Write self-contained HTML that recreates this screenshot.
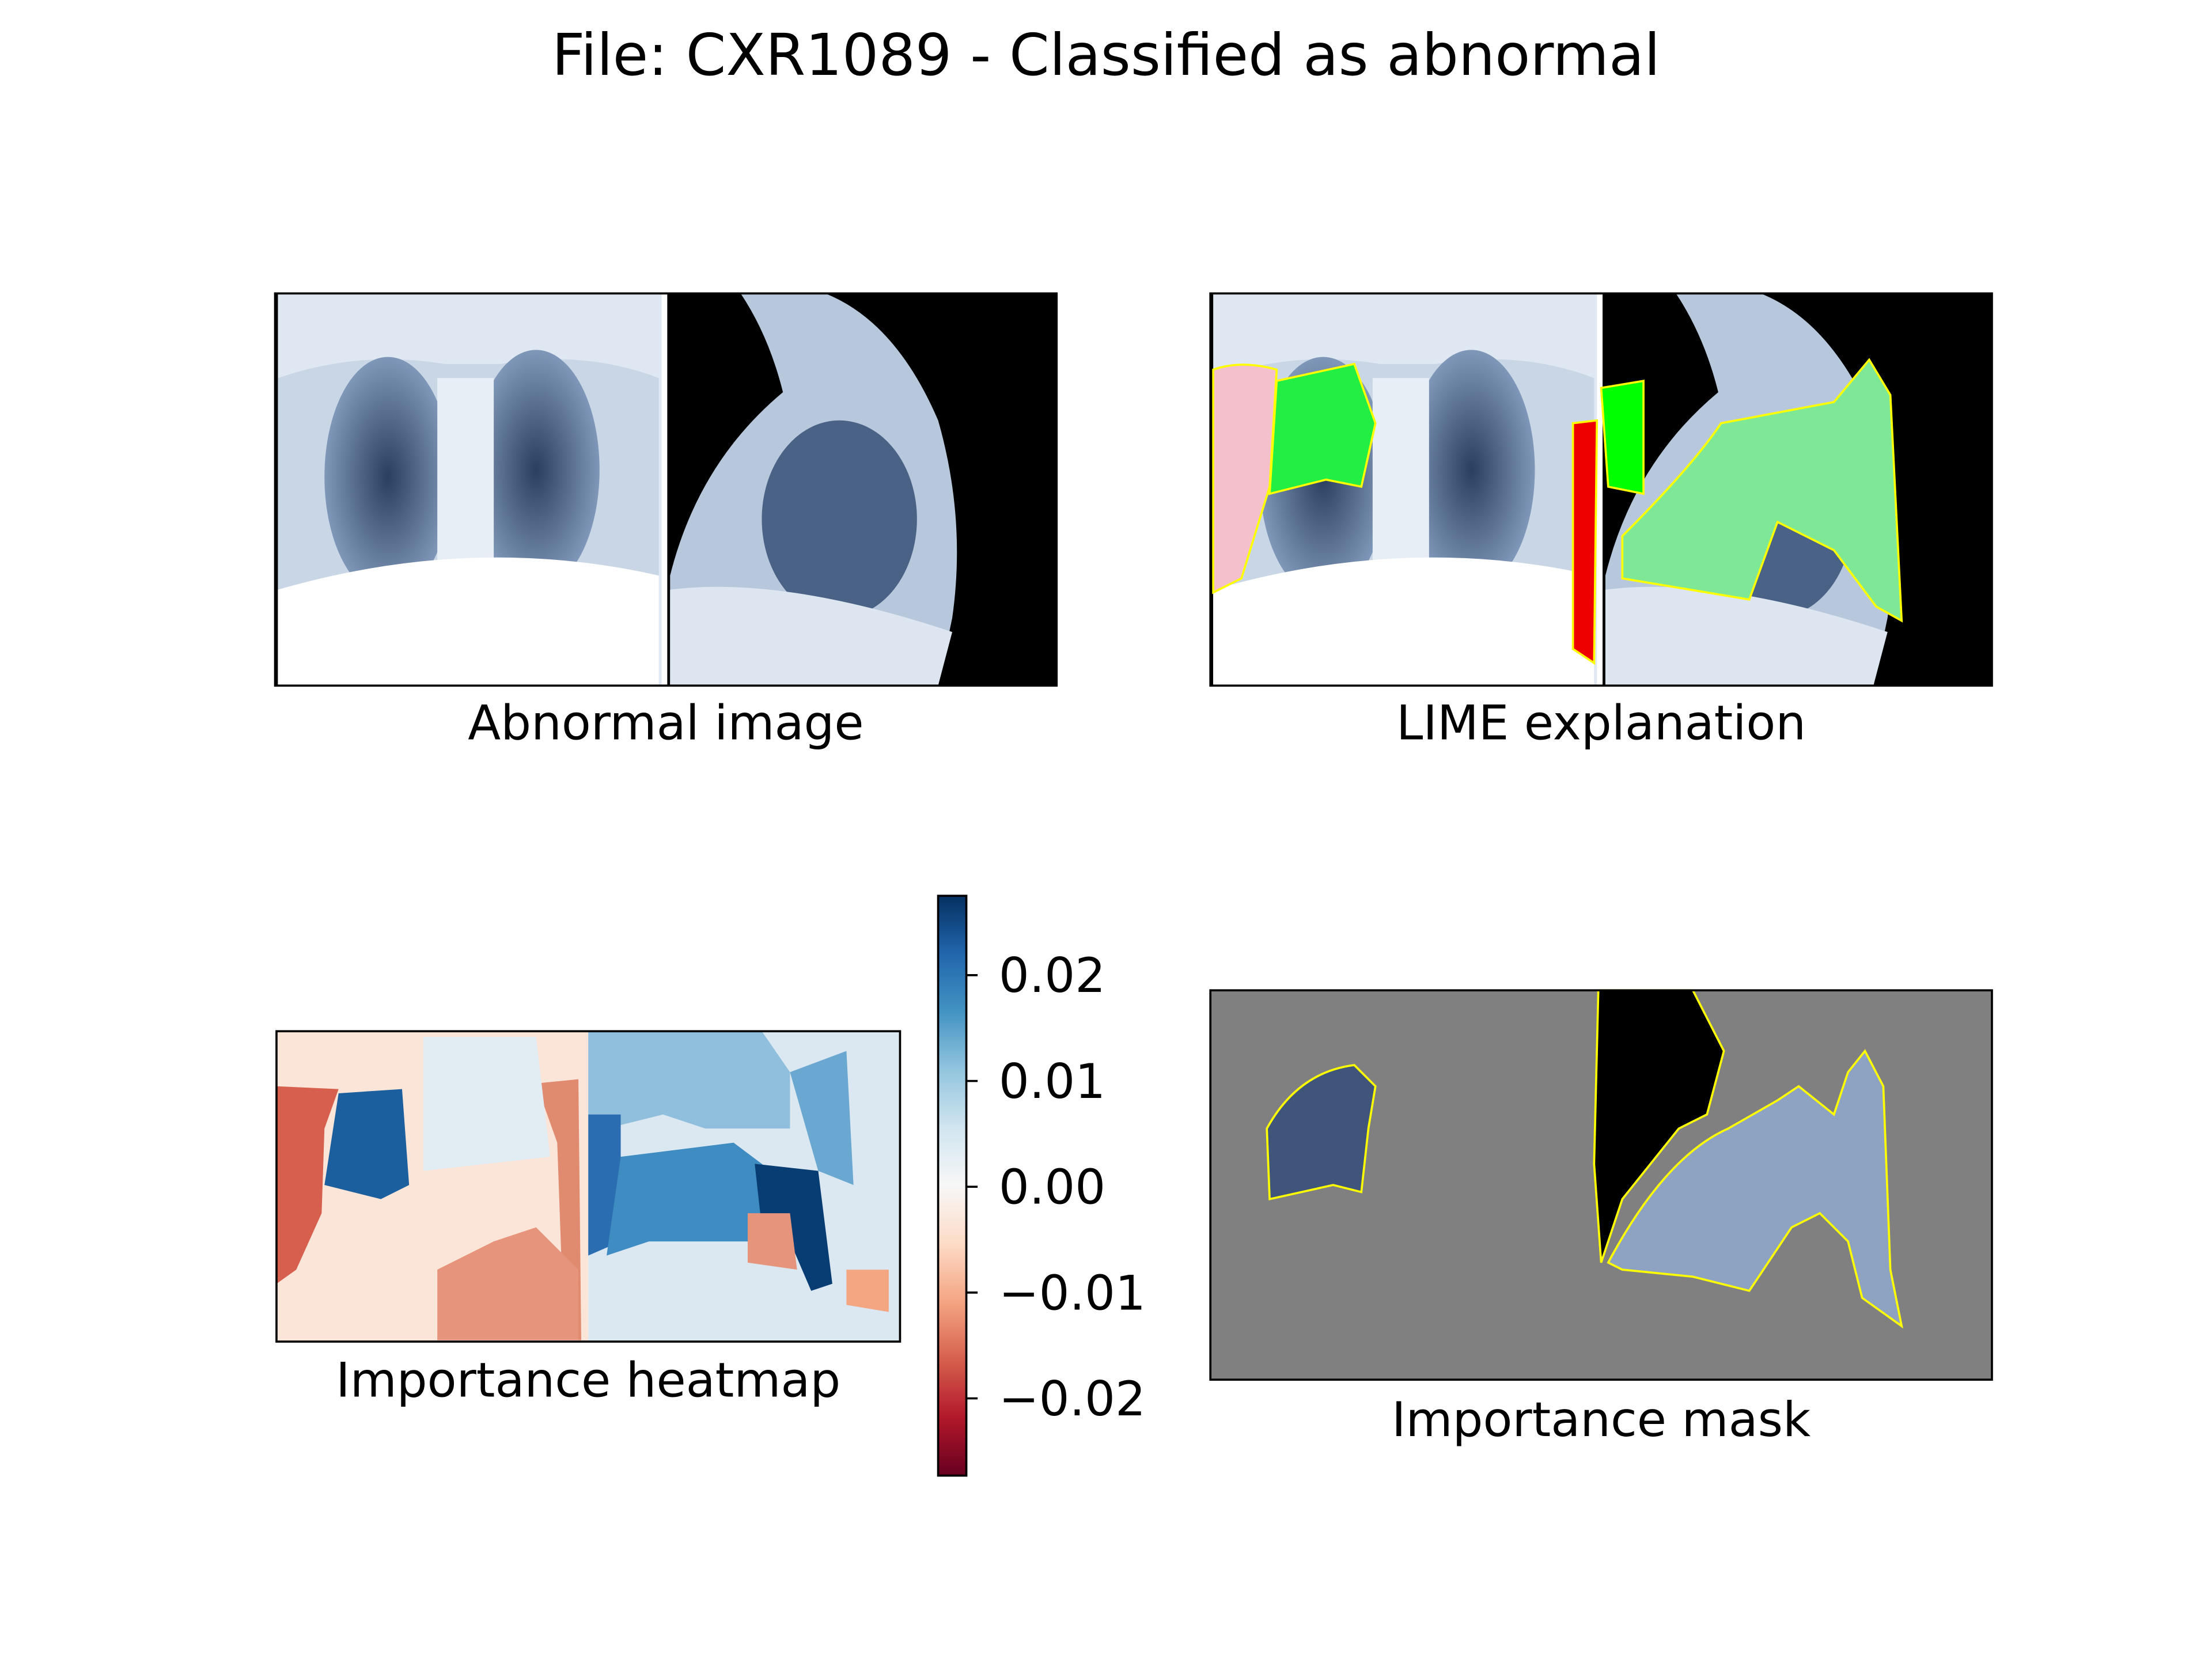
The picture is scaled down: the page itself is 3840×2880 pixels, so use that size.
<!DOCTYPE html>
<html><head><meta charset="utf-8"><style>
html,body{margin:0;padding:0;background:#fff}
svg{display:block}
text{font-family:"DejaVu Sans","Liberation Sans",sans-serif;fill:#000}
</style></head><body>
<svg id="fig" width="3840" height="2880" viewBox="0 0 1568 1176" xmlns="http://www.w3.org/2000/svg">
<defs>
<linearGradient id="cb" x1="0" y1="1" x2="0" y2="0">
<stop offset="0" stop-color="#67001f"/><stop offset="0.1" stop-color="#b2182b"/><stop offset="0.2" stop-color="#d6604d"/><stop offset="0.3" stop-color="#f4a582"/><stop offset="0.4" stop-color="#fddbc7"/><stop offset="0.5" stop-color="#f7f7f7"/><stop offset="0.6" stop-color="#d1e5f0"/><stop offset="0.7" stop-color="#92c5de"/><stop offset="0.8" stop-color="#4393c3"/><stop offset="0.9" stop-color="#2166ac"/><stop offset="1" stop-color="#053061"/>
</linearGradient>
<radialGradient id="lung" cx="0.5" cy="0.5" r="0.5"><stop offset="0" stop-color="#2a3f60"/><stop offset="1" stop-color="#7f97b8"/></radialGradient>
<g id="xray">
<rect x="0" y="0" width="554" height="278" fill="#000"/>
<rect x="2" y="0" width="274" height="278" fill="#dfe8f2"/>
<path d="M2 60 Q60 40 120 50 L160 50 Q220 40 272 60 L272 278 L2 278Z" fill="#c9d6e6"/>
<ellipse cx="80" cy="130" rx="45" ry="85" fill="url(#lung)"/>
<ellipse cx="185" cy="125" rx="45" ry="85" fill="url(#lung)"/>
<rect x="115" y="60" width="40" height="160" fill="#e8eef6"/>
<path d="M2 210 Q140 170 272 200 L272 278 L2 278Z" fill="#fff"/>
<rect x="274" y="0" width="4" height="278" fill="#fff"/>
<path d="M330 0 L390 0 Q440 20 470 90 Q490 160 480 230 L470 278 L280 278 L280 200 Q300 120 360 70 Q350 30 330 0Z" fill="#b8c8dc"/>
<ellipse cx="400" cy="160" rx="55" ry="70" fill="#4a6286"/>
<path d="M280 210 Q360 200 480 240 L470 278 L280 278Z" fill="#dde6f0"/>
</g>
</defs>
<text x="784" y="53" text-anchor="middle" font-size="40.8">File: CXR1089 - Classified as abnormal</text>

<g>
<use href="#xray" x="195" y="208"/>
<rect x="195" y="208" width="554" height="278" fill="none" stroke="#000" stroke-width="1.5"/>
<text x="472" y="524" text-anchor="middle" font-size="34">Abnormal image</text>
</g>

<g>
<use href="#xray" x="858" y="208"/>
<path d="M860 262 Q880 255 905 262 L900 345 L880 410 L860 420Z" fill="#f4c0cc" stroke="#ff0" stroke-width="1.5"/>
<path d="M905 270 L960 258 L975 300 L965 345 L940 340 L900 350Z" fill="#22ee44" stroke="#ff0" stroke-width="1.5"/>
<path d="M1115 300 L1132 298 L1130 470 L1115 460Z" fill="#ee0000" stroke="#ff0" stroke-width="1.5"/>
<path d="M1135 275 L1165 270 L1165 350 L1140 345Z" fill="#00ff00" stroke="#ff0" stroke-width="1.5"/>
<path d="M1150 380 Q1200 330 1220 300 L1300 285 L1325 255 L1340 280 L1348 440 L1330 430 L1300 390 L1260 370 L1240 425 L1150 410Z" fill="#7fe896" stroke="#ff0" stroke-width="1.5"/>
<rect x="858" y="208" width="554" height="278" fill="none" stroke="#000" stroke-width="1.5"/>
<text x="1135" y="524" text-anchor="middle" font-size="34">LIME explanation</text>
</g>

<g>
<rect x="196" y="731" width="221" height="220" fill="#fbe4d8"/>
<rect x="417" y="731" width="221" height="220" fill="#dbe8f1"/>
<path d="M196 770 L240 772 L230 800 L228 860 L210 900 L196 910Z" fill="#d6604d"/>
<path d="M380 768 L410 765 L412 950 L400 950 L395 810Z" fill="#e08a70"/>
<path d="M240 775 L285 772 L290 840 L270 850 L230 840Z" fill="#1c5f9f"/>
<path d="M300 735 L380 735 L390 820 L300 830Z" fill="#e2ecf3"/>
<path d="M310 900 L350 880 L380 870 L410 900 L410 950 L310 950Z" fill="#e6957c"/>
<path d="M417 731 L540 731 L560 760 L560 800 L500 800 L470 790 L430 800 L417 790Z" fill="#8fbfdc"/>
<path d="M417 790 L440 790 L440 880 L417 890Z" fill="#2a6db0"/>
<path d="M440 820 L520 810 L560 840 L540 880 L460 880 L430 890Z" fill="#3f8cc2"/>
<path d="M535 825 L580 830 L590 910 L575 915 L560 880 L540 870Z" fill="#083d74"/>
<path d="M560 760 L600 745 L605 840 L580 830Z" fill="#6aa8d1"/>
<path d="M530 860 L560 860 L565 900 L530 895Z" fill="#e6957c"/>
<path d="M600 900 L630 900 L630 930 L600 925Z" fill="#f4a582"/>
<rect x="196" y="731" width="442" height="220" fill="none" stroke="#000" stroke-width="1.5"/>
<text x="417" y="990" text-anchor="middle" font-size="34">Importance heatmap</text>
</g>

<g id="colorbar">
<rect x="665" y="635" width="20" height="411" fill="url(#cb)" stroke="#000" stroke-width="1.5"/>
</g>

<g>
<rect x="858" y="702" width="554" height="276" fill="#808080"/>
<path d="M898 800 Q920 760 960 755 L975 770 L970 800 L965 845 L945 840 L900 850Z" fill="#3f567a" stroke="#ff0" stroke-width="1.5"/>
<path d="M1133 702 L1200 702 L1222 745 L1210 790 L1190 800 L1150 850 L1135 895 L1130 825Z" fill="#000" stroke="#ff0" stroke-width="1.5"/>
<path d="M1140 895 Q1180 820 1225 800 L1260 780 L1275 770 L1300 790 L1310 760 L1322 745 L1335 770 L1340 900 L1348 940 L1320 920 L1310 880 L1290 860 L1270 870 L1240 915 L1200 905 L1150 900Z" fill="#8ea2c2" stroke="#ff0" stroke-width="1.5"/>
<rect x="858" y="702" width="554" height="276" fill="none" stroke="#000" stroke-width="1.5"/>
<text x="1135" y="1018" text-anchor="middle" font-size="34">Importance mask</text>
</g>
</svg>
<script>
const tickValues = [0.02, 0.01, 0.00, -0.01, -0.02];
const tickLabels = ["0.02", "0.01", "0.00", "\u22120.01", "\u22120.02"];
const cbMin = -0.0273, cbMax = 0.0275;
function yScale(v){ return 1046 - (v - cbMin) / (cbMax - cbMin) * 411; }
const NS = "http://www.w3.org/2000/svg";
const cbG = document.getElementById("colorbar");
tickValues.forEach((v, i) => {
  const y = yScale(v);
  const ln = document.createElementNS(NS, "line");
  ln.setAttribute("x1", 685); ln.setAttribute("x2", 693);
  ln.setAttribute("y1", y); ln.setAttribute("y2", y);
  ln.setAttribute("stroke", "#000"); ln.setAttribute("stroke-width", "1.5");
  
  
  cbG.appendChild(ln);
  const t = document.createElementNS(NS, "text");
  t.setAttribute("x", 708); t.setAttribute("y", y + 12);
  t.setAttribute("font-size", "34");
  t.textContent = tickLabels[i];
  
  
  cbG.appendChild(t);
});
</script>
</body></html>
